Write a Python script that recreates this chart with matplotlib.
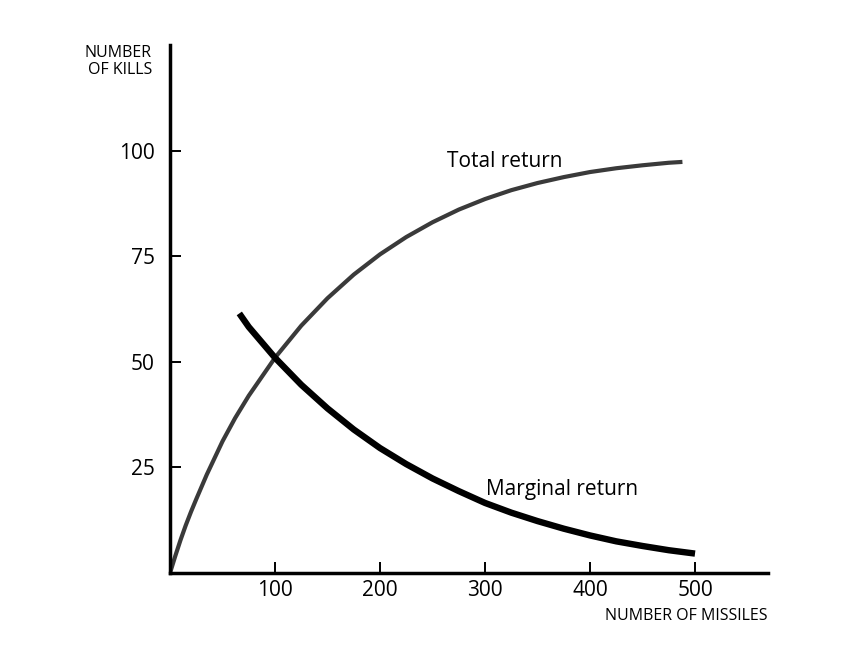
import matplotlib
matplotlib.use("Agg")
import matplotlib.pyplot as plt

plt.rcParams['font.family'] = ['Open Sans', 'DejaVu Sans']

# values
total_x = [0, 5, 10, 15, 20, 25, 35, 50, 62, 75, 100, 125, 150, 175, 200, 225,
           250, 275, 300, 325, 350, 375, 400, 425, 450, 475, 488]
total_y = [0, 4, 7.8, 11.3, 14.5, 17.5, 23.3, 31.2, 36.7, 42.0, 51.0, 58.6,
           65.1, 70.7, 75.5, 79.6, 83.1, 86.1, 88.6, 90.7, 92.4, 93.8, 95.0,
           95.9, 96.6, 97.2, 97.4]

marginal_x = [66, 75, 100, 125, 150, 175, 200, 225, 250, 275, 300, 325, 350,
              375, 400, 425, 450, 475, 500]
marginal_y = [61.5, 58.3, 51.0, 44.6, 39.0, 34.0, 29.6, 25.8, 22.4, 19.4,
              16.6, 14.3, 12.3, 10.5, 8.9, 7.5, 6.4, 5.4, 4.6]

x_ticks = [100, 200, 300, 400, 500]
y_ticks = [25, 50, 75, 100]

W, H = 845, 647
fig = plt.figure(figsize=(W / 100, H / 100), dpi=100)
ax = fig.add_axes([170 / W, 1 - 573 / H, (768 - 170) / W, (573 - 45) / H])

ax.plot(total_x, total_y, color='#3a3a3a', lw=3.0, solid_capstyle='butt',
        solid_joinstyle='round')
ax.plot(marginal_x, marginal_y, color='black', lw=4.6, solid_capstyle='butt',
        solid_joinstyle='round')

ax.set_xlim(0, 569.5)
ax.set_ylim(0, 125.1)

ax.set_xticks(x_ticks)
ax.set_yticks(y_ticks)
ax.tick_params(direction='in', length=8, width=1.4, labelsize=15, color='black')
ax.tick_params(axis='x', pad=5)
ax.tick_params(axis='y', pad=11)

for side in ['top', 'right']:
    ax.spines[side].set_visible(False)
for side in ['left', 'bottom']:
    ax.spines[side].set_linewidth(2.5)

ax.text(319, 97.6, 'Total return', fontsize=15, ha='center', va='center')
ax.text(373, 19.7, 'Marginal return', fontsize=15, ha='center', va='center')

fig.text(152 / W, 1 - 45 / H, 'NUMBER\nOF KILLS', fontsize=11.5,
         ha='right', va='top', linespacing=1.05)
fig.text(768 / W, 1 - 608 / H, 'NUMBER OF MISSILES', fontsize=11.5,
         ha='right', va='top')

fig.savefig('out.png', dpi=100)
